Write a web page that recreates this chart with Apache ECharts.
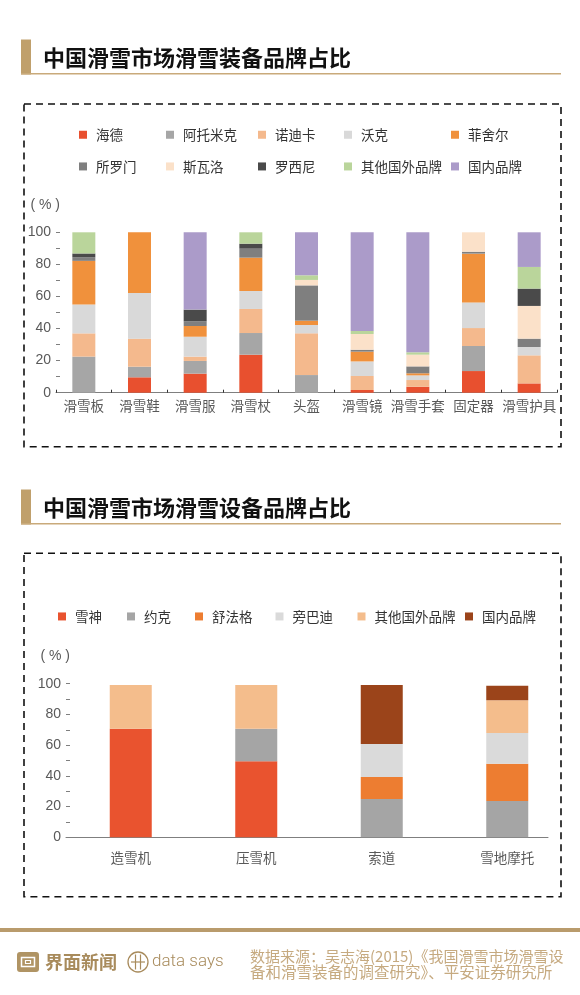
<!DOCTYPE html>
<html><head><meta charset="utf-8">
<script src="https://cdn.jsdelivr.net/npm/echarts@6/dist/echarts.min.js"></script>
<style>html,body{margin:0;padding:0;background:#fff}#c{width:580px;height:995px}</style>
</head><body><div id="c"></div>
<script>
// ---------- Chart 1 data: 滑雪装备 ----------
const gearCategories = ['滑雪板','滑雪鞋','滑雪服','滑雪杖','头盔','滑雪镜','滑雪手套','固定器','滑雪护具'];
const gearBrands = ['海德','阿托米克','诺迪卡','沃克','菲舍尔','所罗门','斯瓦洛','罗西尼','其他国外品牌','国内品牌'];
const haide        = [0, 9.6, 11.9, 23.7, 0, 1.7, 3.7, 13.5, 5.8];
const atomic       = [22.5, 6.6, 7.9, 13.5, 11, 0, 0, 15.6, 0];
const nordica      = [14.5, 17.5, 2.7, 15, 26, 8.7, 4.2, 11.2, 17.5];
const volkl        = [18, 28.5, 12.4, 11.2, 5.2, 9.1, 2.9, 16, 5.2];
const fischer      = [27.2, 37.8, 6.7, 20.8, 2.7, 6.1, 1.3, 30.4, 0];
const salomon      = [2.3, 0, 2.9, 5.6, 22, 1.2, 4.3, 1.2, 5.2];
const swarovski    = [0, 0, 0, 0, 3.4, 9.8, 7.3, 12.1, 20.4];
const rossignol    = [2.3, 0, 7.3, 3.1, 0, 0, 0, 0, 10.8];
const otherForeign1 = [13.2, 0, 0, 7.1, 2.9, 1.9, 1.5, 0, 13.5];
const domestic1    = [0, 0, 48.2, 0, 26.8, 61.5, 74.8, 0, 21.6];

// ---------- Chart 2 data: 滑雪设备 ----------
const equipCategories = ['造雪机','压雪机','索道','雪地摩托'];
const equipBrands = ['雪神','约克','舒法格','旁巴迪','其他国外品牌','国内品牌'];
const xueshen       = [70.7, 49.5, 0, 0];
const york          = [0, 21.2, 24.9, 23.6];
const shufage       = [0, 0, 14.4, 24.3];
const bombardier    = [0, 0, 21.5, 20];
const otherForeign2 = [28.4, 28.4, 0, 21.3];
const domestic2     = [0, 0, 38.4, 9.5];

const yTicks = [0, 20, 40, 60, 80, 100];

// ---------- styles ----------
const gearColors = ['#e8502f','#a6a6a6','#f4b98d','#d9d9d9','#f0913c','#7f7f7f','#fbe1c9','#4a4a4a','#bad59b','#ab9bc9'];
const equipColors = ['#e9532f','#a5a5a5','#ed7d31','#dadada','#f4bd8c','#9b441a'];
const gearValues = [haide, atomic, nordica, volkl, fischer, salomon, swarovski, rossignol, otherForeign1, domestic1];
const equipValues = [xueshen, york, shufage, bombardier, otherForeign2, domestic2];

const CJK = '"Noto Sans CJK SC", sans-serif';
const gold = '#b99b6c';
const axisGray = '#7f7f7f';
const labelGray = '#595959';

const series = [];
gearBrands.forEach((b, i) => series.push({
  name: b, type: 'bar', stack: 'gear', xAxisIndex: 0, yAxisIndex: 0,
  barWidth: 23, itemStyle: { color: gearColors[i] }, data: gearValues[i]
}));
equipBrands.forEach((b, i) => series.push({
  name: b + ' ', type: 'bar', stack: 'equip', xAxisIndex: 1, yAxisIndex: 1,
  barWidth: 42, itemStyle: { color: equipColors[i] }, data: equipValues[i]
}));

// legends (one component per item to reproduce irregular spacing)
const legends = [];
const gearLegendLeft = [79, 166, 258, 344, 451];
const gearLegendRowY = [135, 166.7];
gearBrands.forEach((b, i) => {
  legends.push({
    data: [b], left: gearLegendLeft[i % 5], top: gearLegendRowY[Math.floor(i / 5)] - 7,
    padding: 0, icon: 'rect', itemWidth: 8, itemHeight: 8, selectedMode: false,
    textStyle: { fontSize: 13.5, color: '#333', fontFamily: CJK, padding: [0, 0, 0, 4] }
  });
});
const equipLegendLeft = [58, 127, 195, 275.5, 357.5, 465];
equipBrands.forEach((b, i) => {
  legends.push({
    data: [b + ' '], left: equipLegendLeft[i], top: 616.7 - 7,
    padding: 0, icon: 'rect', itemWidth: 8, itemHeight: 8, selectedMode: false,
    formatter: n => n.trim(),
    textStyle: { fontSize: 13.5, color: '#333', fontFamily: CJK, padding: [0, 0, 0, 4] }
  });
});

const yAxisCommon = (gridIndex, show) => ({
  type: 'value', gridIndex, min: yTicks[0], max: yTicks[yTicks.length - 1], interval: yTicks[1] - yTicks[0],
  show,
  name: '( % )', nameLocation: 'end', nameGap: 20,
  nameTextStyle: { color: labelGray, fontSize: 14, fontFamily: '"Liberation Sans", sans-serif', align: 'right', padding: [0, -4, 0, 0] },
  axisLine: { show: false },
  axisTick: { show: true, inside: true, length: 4, lineStyle: { color: axisGray } },
  minorTick: { show: true, splitNumber: 2, length: 4, lineStyle: { color: axisGray } },
  splitLine: { show: false },
  axisLabel: { color: labelGray, fontSize: 14, fontFamily: '"Liberation Sans", sans-serif', margin: 5 }
});

const titleBlock = (y, text) => ([
  { type: 'rect', shape: { x: 21, y: y - 17, width: 10, height: 35 }, style: { fill: '#c0a06c' } },
  { type: 'rect', shape: { x: 21, y: y + 16.5, width: 540, height: 1.6 }, style: { fill: '#c9aa7a' } },
  { type: 'text', x: 43, y: y + 1, style: { text, font: 'bold 22px ' + CJK, fill: '#111', verticalAlign: 'middle' } }
]);

const option = {
  animation: false,
  backgroundColor: '#fff',
  legend: legends,
  grid: [
    { left: 56, right: 23, top: 232.3, bottom: 995 - 392.7, containLabel: false },
    { left: 68, right: 10, top: 683.7, bottom: 995 - 837.3, containLabel: false },
    { left: 66, right: 32, top: 683.7, bottom: 995 - 837.3, containLabel: false }
  ],
  xAxis: [
    { type: 'category', gridIndex: 0, data: gearCategories, boundaryGap: true,
      axisLine: { lineStyle: { color: axisGray, width: 1 } },
      axisTick: { show: true, inside: true, length: 3, lineStyle: { color: '#333' } },
      axisLabel: { color: labelGray, fontSize: 13.5, fontFamily: CJK, margin: 6, interval: 0 } },
    { type: 'category', gridIndex: 1, data: equipCategories,
      axisLine: { show: false }, axisTick: { show: false },
      axisLabel: { color: labelGray, fontSize: 13.5, fontFamily: CJK, margin: 14, interval: 0 } },
    { type: 'category', gridIndex: 2, data: equipCategories,
      axisLine: { lineStyle: { color: axisGray, width: 1 } }, axisTick: { show: false },
      axisLabel: { show: false } }
  ],
  yAxis: [
    yAxisCommon(0, true),
    yAxisCommon(1, false),
    Object.assign(yAxisCommon(2, true), { nameGap: 21 })
  ],
  series,
  graphic: [
    ...titleBlock(56.5, '中国滑雪市场滑雪装备品牌占比'),
    ...titleBlock(506.5, '中国滑雪市场滑雪设备品牌占比'),
    { type: 'rect', shape: { x: 24, y: 104, width: 537, height: 342.7 },
      style: { fill: 'none', stroke: '#111', lineWidth: 1.6, lineDash: [7, 5] } },
    { type: 'rect', shape: { x: 24, y: 553.3, width: 537, height: 343.4 },
      style: { fill: 'none', stroke: '#111', lineWidth: 1.6, lineDash: [7, 5] } },
    // footer
    { type: 'rect', shape: { x: 0, y: 928, width: 580, height: 4 }, style: { fill: gold } },
    { type: 'rect', shape: { x: 17, y: 952, width: 22, height: 20, r: 3 }, style: { fill: '#b09464' } },
    { type: 'rect', shape: { x: 21.5, y: 957.5, width: 13, height: 9 }, style: { fill: 'none', stroke: '#fff', lineWidth: 1.5 } },
    { type: 'rect', shape: { x: 25.5, y: 960.5, width: 5, height: 3 }, style: { fill: 'none', stroke: '#fff', lineWidth: 1.2 } },
    { type: 'text', x: 45, y: 962, style: { text: '界面新闻', font: 'bold 18px ' + CJK, fill: '#a88b5c', verticalAlign: 'middle' } },
    { type: 'circle', shape: { cx: 138, cy: 962, r: 10 }, style: { fill: 'none', stroke: '#a88b5c', lineWidth: 1.3 } },
    { type: 'line', shape: { x1: 135.5, y1: 954.5, x2: 135.5, y2: 969.5 }, style: { stroke: '#a88b5c', lineWidth: 1.2 } },
    { type: 'line', shape: { x1: 140.5, y1: 954.5, x2: 140.5, y2: 969.5 }, style: { stroke: '#a88b5c', lineWidth: 1.2 } },
    { type: 'line', shape: { x1: 131, y1: 962, x2: 145, y2: 962 }, style: { stroke: '#a88b5c', lineWidth: 1.2 } },
    { type: 'text', x: 152, y: 962, style: { text: 'data says', font: '300 17px Roboto, "Liberation Sans", sans-serif', fill: '#a88b5c', verticalAlign: 'middle' } },
    { type: 'text', x: 250, y: 956.5, style: { text: '数据来源：吴志海(2015)《我国滑雪市场滑雪设', font: '15px ' + CJK, fill: '#c6aa80', verticalAlign: 'middle' } },
    { type: 'text', x: 250, y: 972, style: { text: '备和滑雪装备的调查研究》、平安证券研究所', font: '15.5px ' + CJK, fill: '#c6aa80', verticalAlign: 'middle' } }
  ]
};

const chart = echarts.init(document.getElementById('c'), null, { renderer: 'canvas' });
chart.setOption(option);
</script>
</body></html>
